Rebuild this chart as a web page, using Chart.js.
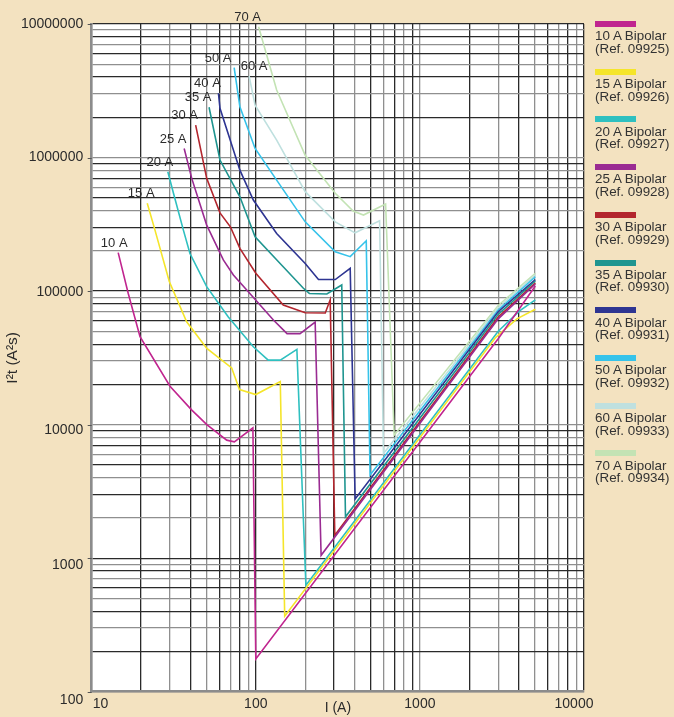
<!DOCTYPE html>
<html>
<head>
<meta charset="utf-8">
<title>I²t Bipolar</title>
<script src="https://cdn.jsdelivr.net/npm/chart.js@4.4.1/dist/chart.umd.min.js"></script>
<style>
    html, body { margin: 0; padding: 0; background: #f3e2c0; }
    #wrap { position: relative; width: 674px; height: 717px; overflow: hidden; }
    #grafico { position: absolute; left: 0; top: 0; }
    #legenda { position: absolute; left: 595px; top: 0; width: 79px;
        font-family: 'Liberation Sans', Arial, sans-serif; font-size: 13.4px; color: #333; }
    .item { position: absolute; left: 0; }
    .cor { width: 41px; height: 6px; }
    .txt { line-height: 12.6px; margin-top: 3.4px; white-space: nowrap; }
</style>
</head>
<body>
<div id="wrap">
    <canvas id="grafico" width="674" height="717"></canvas>
    <div id="legenda"></div>
</div>
<script>
// Valores (I em A, I²t em A²s)
const corrente10 = [14.5, 16.7, 19.7, 30, 40.6, 50.3, 66.5, 74, 96, 100, 3000, 5050];
const energia10 = [194000, 96000, 45500, 19400, 12900, 10000, 7650, 7430, 9460, 176, 44000, 109000];

const corrente15 = [21.8, 24.3, 29.7, 37.9, 50.3, 71.3, 79.5, 100, 141, 150, 2900, 3900, 5050];
const energia15 = [454000, 286000, 118000, 58900, 37200, 26600, 18300, 16800, 21000, 368, 45000, 62000, 73000];

const corrente20 = [29.1, 31.5, 36.2, 39.7, 50.2, 68, 96.6, 119, 141, 178, 202, 3000, 4050, 5050];
const energia20 = [783000, 540000, 286000, 191000, 108000, 64000, 38300, 30400, 30400, 36600, 628, 50000, 71000, 86000];

const corrente25 = [36.6, 40.7, 50.2, 63.4, 73, 92, 128, 155, 186, 230, 250, 3000, 5050];
const energia25 = [1170000, 698000, 312000, 171000, 132000, 96000, 60700, 48000, 48000, 58500, 1050, 62000, 113000];

const corrente30 = [43, 50.2, 60.5, 70, 80, 100, 147, 200, 265, 284, 303, 3000, 5050];
const energia30 = [1750000, 698000, 385000, 303000, 209000, 136000, 78500, 68800, 68600, 86000, 1485, 64000, 115000];

const corrente35 = [51.9, 60.5, 80, 99, 140.7, 195, 212, 271, 334, 352, 3000, 5050];
const energia35 = [2380000, 958000, 508000, 255000, 161000, 105000, 96000, 95000, 111000, 2040, 67000, 119000];

const corrente40 = [59.2, 60.5, 80, 96.6, 134, 200, 241, 305, 376, 403, 3000, 5050];
const energia40 = [3030000, 2340000, 805000, 481000, 270000, 161000, 122000, 122000, 148000, 2770, 70000, 122000];

const corrente50 = [73.8, 80, 99, 134, 200, 305, 376, 471, 497, 3000, 5050];
const energia50 = [4710000, 2400000, 1170000, 678000, 330000, 197000, 181000, 238000, 4190, 72000, 128000];

const corrente60 = [91, 99, 134, 200, 305, 403, 568, 600, 3000, 5050];
const energia60 = [4080000, 2470000, 1350000, 555000, 330000, 273000, 336000, 6080, 75000, 132000];

const corrente70 = [104, 134, 200, 305, 392, 453, 618, 697, 3000, 5050];
const energia70 = [9550000, 3200000, 1040000, 540000, 397000, 371000, 449000, 8340, 78000, 136000];

const rotulos = ['10 A', '15 A', '20 A', '25 A', '30 A', '35 A', '40 A', '50 A', '60 A', '70 A'];
const legendaNomes = ['10 A Bipolar', '15 A Bipolar', '20 A Bipolar', '25 A Bipolar', '30 A Bipolar',
    '35 A Bipolar', '40 A Bipolar', '50 A Bipolar', '60 A Bipolar', '70 A Bipolar'];
const legendaRefs = ['(Ref. 09925)', '(Ref. 09926)', '(Ref. 09927)', '(Ref. 09928)', '(Ref. 09929)',
    '(Ref. 09930)', '(Ref. 09931)', '(Ref. 09932)', '(Ref. 09933)', '(Ref. 09934)'];

const decadasX = [10, 100, 1000, 10000];
const decadasY = [100, 1000, 10000, 100000, 1000000, 10000000];

// estilo
const cores = ['#c0258f', '#f5e52a', '#2fc0c0', '#9a2b92', '#b3262e',
    '#1f9590', '#2e3592', '#36c3ea', '#bfe0df', '#c3e3b4'];
const deslocRotulo = [-4, -6, -8, -11, -11, -11, -11, -16, 5, -11];
const deslocNumerosY = [8, 7, 5.5, 1.5, 0, 0];
const fonte = "'Liberation Sans', Arial, sans-serif";
const corTexto = '#2b2b2b';

document.addEventListener('DOMContentLoaded', () => {
    const correntes = [corrente10, corrente15, corrente20, corrente25, corrente30,
        corrente35, corrente40, corrente50, corrente60, corrente70];
    const energias = [energia10, energia15, energia20, energia25, energia30,
        energia35, energia40, energia50, energia60, energia70];

    // linhas da grade: 1..9 em cada década
    const grade = (decadas) => {
        const v = [];
        decadas.forEach((d, i) => {
            if (i === decadas.length - 1) { v.push(d); return; }
            for (let m = 1; m <= 9; m++) v.push(m * d);
        });
        return v;
    };
    const gradeX = grade(decadasX);
    const gradeY = grade(decadasY);

    const corGrade = (c) => (c.index % 2 ? '#2a2a2a' : '#8f8f8f');

    // fundo bege e área do gráfico branca
    const fundo = {
        id: 'fundo',
        beforeDraw(chart) {
            const { ctx, chartArea: a } = chart;
            ctx.save();
            ctx.fillStyle = '#f3e2c0';
            ctx.fillRect(0, 0, chart.width, chart.height);
            ctx.fillStyle = '#ffffff';
            ctx.fillRect(a.left, a.top, a.right - a.left, a.bottom - a.top);
            ctx.restore();
        }
    };

    // rótulos "10 A" etc. no início de cada curva
    const rotulosCurvas = {
        id: 'rotulosCurvas',
        afterDatasetsDraw(chart) {
            const { ctx, scales } = chart;
            ctx.save();
            ctx.font = '13px ' + fonte;
            ctx.fillStyle = corTexto;
            ctx.textAlign = 'center';
            ctx.textBaseline = 'middle';
            rotulos.forEach((r, i) => {
                const px = scales.x.getPixelForValue(correntes[i][0]);
                const py = scales.y.getPixelForValue(energias[i][0]);
                ctx.fillText(r, px + deslocRotulo[i], py - 9.5);
            });
            ctx.restore();
        }
    };

    // números dos eixos
    const numerosEixos = {
        id: 'numerosEixos',
        afterDraw(chart) {
            const { ctx, scales, chartArea } = chart;
            ctx.save();
            ctx.font = '14px ' + fonte;
            ctx.fillStyle = corTexto;
            ctx.textBaseline = 'middle';
            decadasX.forEach((v, i) => {
                let px = scales.x.getPixelForValue(v);
                ctx.textAlign = 'center';
                if (i === 0) { ctx.textAlign = 'left'; px += 1; }
                if (i === decadasX.length - 1) px -= 10;
                ctx.fillText(String(v), px, 704);
            });
            ctx.textAlign = 'right';
            decadasY.forEach((v, i) => {
                const py = scales.y.getPixelForValue(v);
                ctx.fillText(String(v), chartArea.left - 8.5, py + deslocNumerosY[i]);
            });
            // pequenos traços nas décadas do eixo y
            ctx.strokeStyle = '#555';
            ctx.lineWidth = 1;
            decadasY.forEach((v) => {
                const py = Math.round(scales.y.getPixelForValue(v)) + 0.5;
                ctx.beginPath();
                ctx.moveTo(chartArea.left - 4, py);
                ctx.lineTo(chartArea.left, py);
                ctx.stroke();
            });
            ctx.restore();
        }
    };

    const ctx = document.getElementById('grafico').getContext('2d');
    new Chart(ctx, {
        type: 'line',
        data: {
            datasets: rotulos.map((r, i) => ({
                label: legendaNomes[i],
                data: correntes[i].map((x, j) => ({ x: x, y: energias[i][j] })),
                borderColor: cores[i],
                backgroundColor: cores[i],
                borderWidth: 1.6,
                pointRadius: 0,
                tension: 0,
                fill: false
            }))
        },
        options: {
            responsive: false,
            animation: false,
            layout: { padding: { top: 24, right: 90, left: 0, bottom: 0 } },
            plugins: {
                legend: { display: false },
                tooltip: { enabled: false }
            },
            scales: {
                x: {
                    type: 'logarithmic',
                    min: 10,
                    max: 10000,
                    afterBuildTicks: (s) => { s.ticks = gradeX.map(v => ({ value: v })); },
                    afterFit: (s) => { s.height = 25.3; },
                    ticks: { display: false },
                    grid: { color: corGrade, lineWidth: 1.3, drawTicks: false },
                    border: { color: '#8c8c8c', width: 2.5 },
                    title: {
                        display: true, text: 'I (A)', color: corTexto, padding: 0,
                        font: { size: 14, family: fonte }
                    }
                },
                y: {
                    type: 'logarithmic',
                    min: 100,
                    max: 10000000,
                    afterBuildTicks: (s) => { s.ticks = gradeY.map(v => ({ value: v })); },
                    afterFit: (s) => { s.width = 91.7; },
                    ticks: { display: false },
                    grid: { color: corGrade, lineWidth: 1.3, drawTicks: false },
                    border: { color: '#8c8c8c', width: 2.5 },
                    title: {
                        display: true, text: 'I²t (A²s)', color: corTexto,
                        padding: { top: 3, bottom: 0 },
                        font: { size: 15.5, family: fonte }
                    }
                }
            }
        },
        plugins: [fundo, rotulosCurvas, numerosEixos]
    });

    // legenda à direita
    const legenda = document.getElementById('legenda');
    legendaNomes.forEach((nome, i) => {
        const item = document.createElement('div');
        item.className = 'item';
        item.style.top = (21 + i * 47.7) + 'px';
        item.innerHTML = `
            <div class="cor" style="background:${cores[i]}"></div>
            <div class="txt">${nome}<br>${legendaRefs[i]}</div>
        `;
        legenda.appendChild(item);
    });
});
</script>
</body>
</html>
